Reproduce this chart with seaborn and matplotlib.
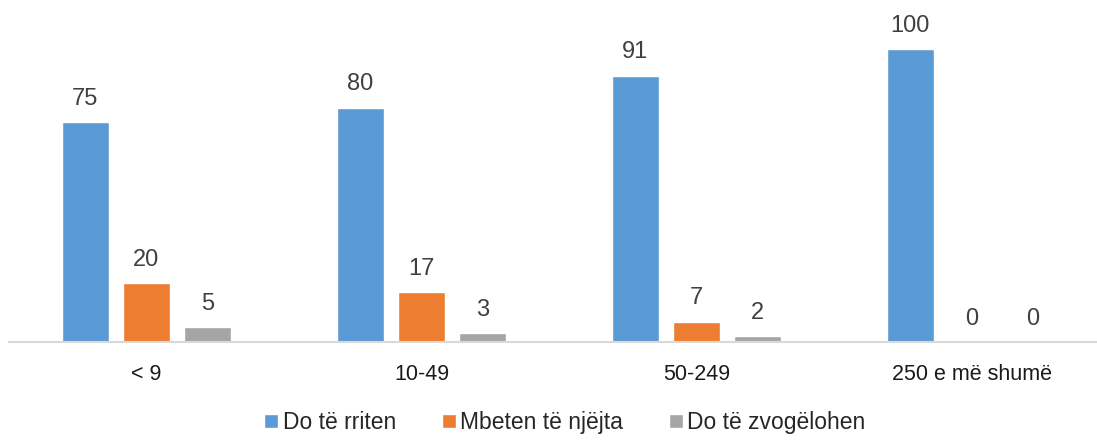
import matplotlib
matplotlib.use("Agg")
import matplotlib.pyplot as plt
import seaborn as sns
import pandas as pd

categories = ["< 9", "10-49", "50-249", "250 e më shumë"]
series = ["Do të rriten", "Mbeten të njëjta", "Do të zvogëlohen"]
rriten = [75, 80, 91, 100]
njejta = [20, 17, 7, 0]
zvogelohen = [5, 3, 2, 0]
colors = ["#5B9BD5", "#ED7D31", "#A5A5A5"]

rows = []
for name, vals in zip(series, [rriten, njejta, zvogelohen]):
    for c, v in zip(categories, vals):
        rows.append({"cat": c, "series": name, "value": v})
df = pd.DataFrame(rows)

sns.set_style("white")
plt.rcParams['font.family'] = ['Liberation Sans', 'DejaVu Sans']

fig = plt.figure(figsize=(10.97, 4.48), dpi=100)
ax = fig.add_axes([9 / 1097, 106 / 448, 1100 / 1097, 322 / 448])

sns.barplot(data=df, x="cat", y="value", hue="series", order=categories,
            hue_order=series, palette=colors, width=0.667, gap=0.23,
            saturation=1, ax=ax, legend=True)

for cont in ax.containers:
    ax.bar_label(cont, fontsize=17, color="#404040", padding=9)

ax.set_xlim(-0.5, 3.5)
ax.set_ylim(0, 110)
ax.set_xlabel("")
ax.set_ylabel("")
ax.set_yticks([])
ax.tick_params(axis="x", length=0, labelsize=15.5, pad=16, labelcolor="#1a1a1a")
for s in ["top", "right", "left"]:
    ax.spines[s].set_visible(False)
ax.spines["bottom"].set_color("#D9D9D9")
ax.spines["bottom"].set_linewidth(1.5)

handles, labels = ax.get_legend_handles_labels()
ax.get_legend().remove()
fig.legend(handles, labels, loc="lower center", bbox_to_anchor=(0.515, -0.015),
           ncol=3, frameon=False, fontsize=16.5, handlelength=0.6, handleheight=0.6,
           handletextpad=0.2, columnspacing=2.0)

fig.savefig("out.png", dpi=100)
